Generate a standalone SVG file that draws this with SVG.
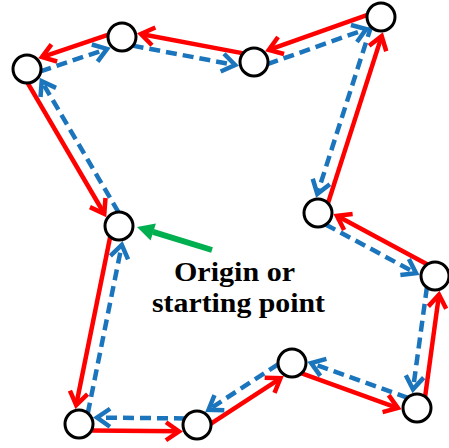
<svg xmlns="http://www.w3.org/2000/svg" width="449" height="448" viewBox="0 0 449 448">
<style>
.r{fill:none;stroke:#ff0000;stroke-width:4.5;marker-end:url(#ar)}
.b{fill:none;stroke:#1b75bc;stroke-width:4.5;stroke-dasharray:11 6;marker-end:url(#ab)}
.n{fill:#fff;stroke:#000;stroke-width:3}
.t{font-family:"Liberation Serif","Times New Roman",serif;font-weight:bold;font-size:28px;fill:#000}
</style>
<defs>
<marker id="ar" markerUnits="userSpaceOnUse" viewBox="-20 -12 24 24" markerWidth="24" markerHeight="24" refX="0" refY="0" orient="auto" overflow="visible"><path d="M-13,-9 L0,0 L-13,9" fill="none" stroke="#ff0000" stroke-width="4.5"/></marker>
<marker id="ab" markerUnits="userSpaceOnUse" viewBox="-20 -12 24 24" markerWidth="24" markerHeight="24" refX="0" refY="0" orient="auto" overflow="visible"><path d="M-13,-9 L0,0 L-13,9" fill="none" stroke="#1b75bc" stroke-width="4.5"/></marker>
</defs>
<g id="connectors">
<line class="r" x1="110.25" y1="236.47" x2="76.19" y2="405.07"/>
<line class="b" x1="87.75" y1="413.53" x2="121.81" y2="244.93"/>
<line class="r" x1="91" y1="430.6" x2="179" y2="431.35"/>
<line class="b" x1="185" y1="418.4" x2="97" y2="417.65"/>
<line class="r" x1="210.6" y1="423.88" x2="280.47" y2="378.28"/>
<line class="b" x1="278.4" y1="364.12" x2="208.53" y2="409.72"/>
<line class="r" x1="301.09" y1="373.18" x2="397.86" y2="408.02"/>
<line class="b" x1="407.91" y1="397.82" x2="311.14" y2="362.98"/>
<line class="r" x1="425.06" y1="396.99" x2="439.01" y2="294.71"/>
<line class="b" x1="426.94" y1="287.01" x2="412.99" y2="389.29"/>
<line class="r" x1="427.51" y1="264.59" x2="336.93" y2="215.81"/>
<line class="b" x1="325.49" y1="224.41" x2="416.07" y2="273.19"/>
<line class="r" x1="327.86" y1="203.57" x2="381.68" y2="36.13"/>
<line class="b" x1="371.14" y1="26.43" x2="317.32" y2="193.87"/>
<line class="r" x1="367.52" y1="14.88" x2="268.8" y2="49.86"/>
<line class="b" x1="267.48" y1="64.12" x2="366.2" y2="29.14"/>
<line class="r" x1="243.42" y1="53.38" x2="140.9" y2="33.96"/>
<line class="b" x1="132.58" y1="45.62" x2="235.1" y2="65.04"/>
<line class="r" x1="108.56" y1="34.67" x2="41.99" y2="57.09"/>
<line class="b" x1="40.44" y1="71.33" x2="107.01" y2="48.91"/>
<line class="r" x1="27.46" y1="82.64" x2="104.29" y2="213.76"/>
<line class="b" x1="118.54" y1="212.36" x2="41.71" y2="81.24"/>
</g>
<g id="n1"><circle class="n" cx="122" cy="37" r="14"/></g>
<g id="n2"><circle class="n" cx="27" cy="69" r="14"/></g>
<g id="n3"><circle class="n" cx="254" cy="62" r="14"/></g>
<g id="n4"><circle class="n" cx="381" cy="17" r="14"/></g>
<g id="n5"><circle class="n" cx="119" cy="226" r="14"/></g>
<g id="n6"><circle class="n" cx="318" cy="213" r="14"/></g>
<g id="n7"><circle class="n" cx="435" cy="276" r="14"/></g>
<g id="n8"><circle class="n" cx="292" cy="363" r="14"/></g>
<g id="n9"><circle class="n" cx="417" cy="408" r="14"/></g>
<g id="n10"><circle class="n" cx="79" cy="424" r="14"/></g>
<g id="n11"><circle class="n" cx="197" cy="425" r="14"/></g>
<g id="origin-label">
<line x1="212" y1="250" x2="153" y2="231.8" stroke="#00b050" stroke-width="6"/>
<polygon points="137,227 155.9,223.38 150.62,240.6" fill="#00b050"/>
<text class="t" x="174" y="281" textLength="121" lengthAdjust="spacingAndGlyphs">Origin or</text>
<text class="t" x="152" y="312" textLength="173" lengthAdjust="spacingAndGlyphs">starting point</text>
</g>
</svg>
